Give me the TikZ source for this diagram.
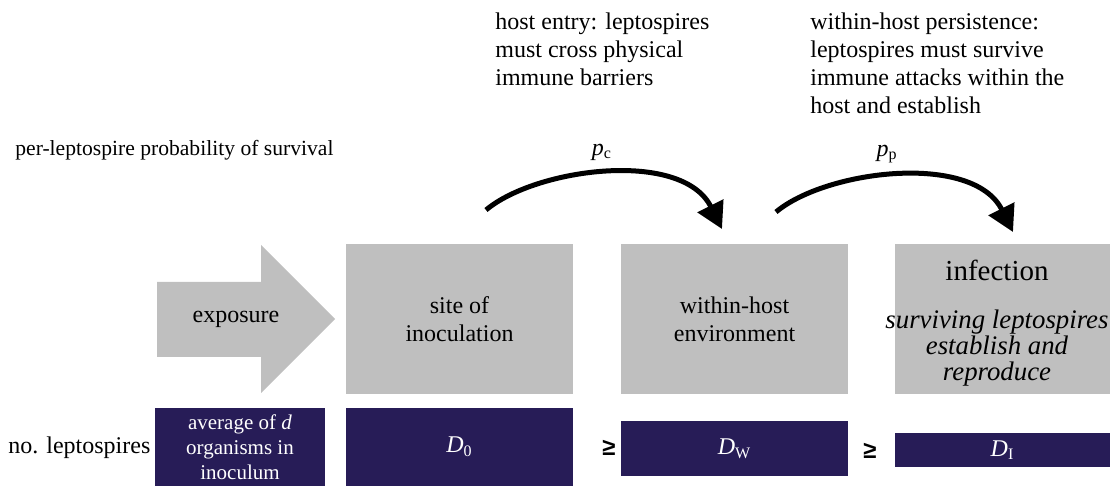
\documentclass[tikz,border=0pt]{standalone}
\usepackage{fontspec}
\setmainfont{Liberation Serif}
\newfontfamily\gesans{Liberation Sans}
\usetikzlibrary{arrows.meta}
\definecolor{stagegray}{RGB}{191, 191, 191}
\definecolor{navy}{RGB}{39, 28, 87}

\begin{document}
\begin{tikzpicture}[x=0.5pt, y=-0.5pt,
  txt/.style={font=\fontsize{12}{14}\selectfont, inner sep=0pt},
  stage/.style={fill=stagegray, minimum width=113.5pt, minimum height=75pt,
    align=center, inner sep=0pt, font=\fontsize{12}{14}\selectfont},
  count/.style={fill=navy, text=white, minimum width=113.5pt, align=center,
    inner sep=0pt, font=\fontsize{12}{14}\selectfont},
  ge/.style={inner sep=0pt, font=\gesans\bfseries\fontsize{12}{14}\selectfont},
  jump/.style={line width=2.5pt, -{Triangle[length=13pt, width=14pt]}}]
  \useasboundingbox (0,0) rectangle (1110,486);

  % Notes
  \node (entry) at (495,12) [txt, anchor=north west, align=left]
  {host entry: leptospires\\must cross physical\\immune barriers};
  \node (persist) at (810,12) [txt, anchor=north west, align=left]
  {within-host persistence:\\leptospires must survive\\immune attacks within the\\host and establish};
  \node (per) at (15,150) [txt, anchor=west, font=\fontsize{10.8}{13}\selectfont]
  {per-leptospire probability of survival};

  % Survival
  \coordinate (c1) at (486,210);
  \coordinate (c2) at (722,229);
  \coordinate (p1) at (776,212);
  \coordinate (p2) at (1013,232);
  \draw [jump] (c1) .. controls +(50,-42) and +(-40,-80) .. (c2);
  \draw [jump] (p1) .. controls +(50,-42) and +(-40,-80) .. (p2);
  \node (pc) at (602,152) [txt] {\textit{p}\textsubscript{c}};
  \node (pp) at (887,154) [txt] {\textit{p}\textsubscript{p}};

  % Exposure
  \fill [stagegray] (157,282) -- (261,282) -- (261,245) -- (335,319)
  -- (261,393) -- (261,357) -- (157,357) -- cycle;
  \node (expo) at (236,319) [txt] {exposure};

  % Stages
  \node (site) at (459.5,319) [stage] {site of\\inoculation};
  \node (host) at (734.5,319) [stage] {within-host\\environment};
  \node (inf) at (1002.5,319) [stage, minimum width=107.5pt] {};
  \node (inftxt) at (997,323) [align=center, inner sep=0pt,
    font=\fontsize{13.4}{13}\selectfont\itshape]
  {{\fontsize{14.5}{13}\selectfont\upshape infection}\\[11pt]surviving leptospires\\establish and\\reproduce};

  % Counts
  \node (no) at (8,448) [txt, anchor=west] {no. leptospires};
  \node (ave) at (240,447) [count, minimum width=85pt, minimum height=39pt,
    font=\fontsize{10.5}{12.5}\selectfont]
  {average of \textit{d}\\organisms in\\inoculum};
  \node (d0) at (459.5,447) [count, minimum height=39pt] {\textit{D}\textsubscript{0}};
  \node (dw) at (734.5,448.5) [count, minimum height=27.5pt] {\textit{D}\textsubscript{W}};
  \node (di) at (1002.5,450) [count, minimum width=107.5pt, minimum height=17pt]
  {\textit{D}\textsubscript{I}};
  \node (ge1) at (609,448) [ge] {≥};
  \node (ge2) at (870,451) [ge] {≥};
\end{tikzpicture}
\end{document}
